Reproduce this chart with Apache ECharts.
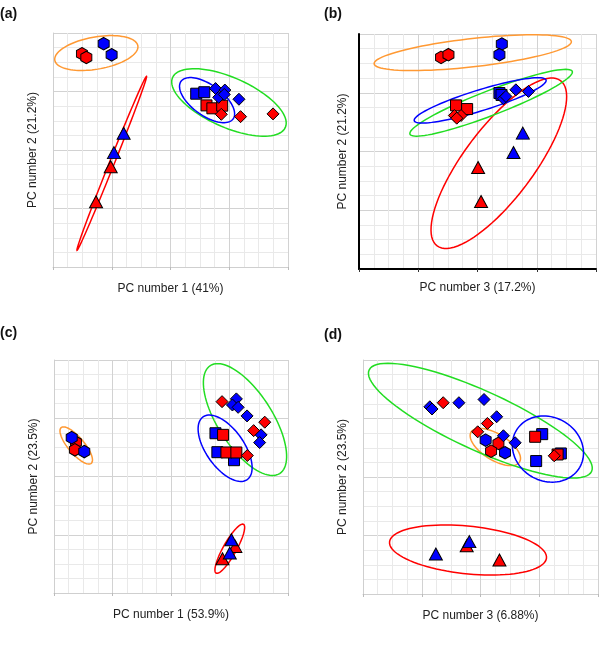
<!DOCTYPE html>
<html>
<head>
<meta charset="utf-8">
<script src="https://cdn.jsdelivr.net/npm/echarts@6/dist/echarts.min.js"></script>
<style>
  html, body { margin: 0; padding: 0; background: #fff; }
  #chart { width: 600px; height: 656px; }
</style>
</head>
<body>
<div id="chart"></div>
<script>
// panel (a): PC1 vs PC2
const aHexRed = [[1.97, 14.58], [2.27, 14.33]]
const aHexBlue = [[3.45, 15.27], [3.99, 14.51]]
const aTriRed = [[3.93, 6.86], [2.93, 4.46]]
const aTriBlue = [[4.81, 9.14], [4.15, 7.82]]
const aSqBlue = [[9.75, 11.85], [10.3, 11.95]]
const aSqRed = [[10.45, 11.05], [10.85, 10.85], [11.52, 11.03]]
const aDiaBlue = [[11.07, 12.2], [11.7, 12.1], [11.28, 11.6], [11.66, 11.8], [12.66, 11.47]]
const aDiaRed = [[11.46, 10.44], [12.77, 10.28], [14.98, 10.47]]
// ellipses: [cx, cy, semi-major, semi-minor, angle deg] -> orange, red, green, blue
const aEllipses = [[2.95, 14.63, 2.87, 1.1, 10], [4.0, 7.09, 6.4, 0.17, 68.3], [11.98, 11.25, 4.2, 1.7, -24], [10.49, 11.41, 2.19, 1.05, -36]]

// panel (b): PC3 vs PC2
const bHexRed = [[5.54, 14.41], [6.04, 14.59]]
const bHexBlue = [[9.64, 15.32], [9.48, 14.59]]
const bTriRed = [[8.04, 6.91], [8.24, 4.59]]
const bTriBlue = [[11.06, 9.25], [10.43, 7.93]]
const bSqBlue = [[9.48, 11.98], [9.62, 11.85]]
const bSqRed = [[6.55, 11.14], [7.3, 10.89]]
const bDiaBlue = [[9.75, 11.59], [9.92, 11.75], [10.59, 12.2], [11.44, 12.09]]
const bDiaRed = [[6.44, 10.45], [6.89, 10.45], [6.6, 10.27]]
const bEllipses = [[7.68, 14.73, 6.7, 0.96, 6.5], [9.44, 7.2, 7.0, 2.37, 53.5], [8.92, 11.32, 5.88, 0.84, 21.3], [8.18, 11.48, 4.66, 0.71, 17.3]]

// panel (c): PC1 vs PC2
const cHexRed = [[1.5, 10.35], [1.43, 9.83]]
const cHexBlue = [[1.21, 10.67], [2.07, 9.71]]
const cTriRed = [[12.4, 3.2], [11.52, 2.35]]
const cTriBlue = [[12.13, 3.66], [12.02, 2.74]]
const cSqBlue = [[11.04, 10.97], [11.17, 9.67], [12.31, 9.12]]
const cSqRed = [[11.56, 10.86], [11.79, 9.65], [12.47, 9.65]]
const cDiaBlue = [[12.47, 13.33], [12.2, 12.91], [12.59, 12.75], [13.2, 12.16], [14.16, 10.86], [14.06, 10.33]]
const cDiaRed = [[11.49, 13.14], [14.41, 11.73], [13.65, 11.15], [13.22, 9.44]]
const cEllipses = [[1.52, 10.13, 1.6, 0.55, -50], [12.02, 3.04, 1.92, 0.45, 60.8], [13.06, 11.91, 4.4, 1.87, -57.4], [11.7, 9.94, 2.63, 1.3, -55]]

// panel (d): PC3 vs PC2
const dHexRed = [[9.22, 10.3], [8.72, 9.77]]
const dHexBlue = [[8.35, 10.52], [9.67, 9.66]]
const dTriRed = [[7.06, 3.3], [9.29, 2.32]]
const dTriBlue = [[4.96, 2.73], [7.24, 3.58]]
const dSqBlue = [[12.2, 10.93], [11.79, 9.09], [13.47, 9.61]]
const dSqRed = [[11.72, 10.75], [13.25, 9.54]]
const dDiaBlue = [[4.55, 12.8], [4.7, 12.65], [6.53, 13.08], [8.24, 13.3], [9.1, 12.12], [9.56, 10.82], [10.36, 10.34]]
const dDiaRed = [[5.46, 13.08], [8.47, 11.66], [7.81, 11.09], [13.02, 9.45]]
const dEllipses = [[9.01, 10.05, 1.94, 0.89, -31.8], [7.15, 3.01, 5.37, 1.63, -5.9], [7.99, 11.85, 8.33, 2.02, -24.6], [12.59, 9.91, 2.5, 2.18, -30]]

const panelLabels = ['(a)', '(b)', '(c)', '(d)']
const xTitles = ['PC number 1 (41%)', 'PC number 3 (17.2%)', 'PC number 1 (53.9%)', 'PC number 3 (6.88%)']
const yTitles = ['PC number 2 (21.2%)', 'PC number 2 (21.2%)', 'PC number 2 (23.5%)', 'PC number 2 (23.5%)']

const RED = '#ff0000'
const BLUE = '#0000ff'
const ellipseColors = ['#ff9933', '#ff0000', '#22dd22', '#0000ff']
const HEX = 'path://M5,0L10,2.9L10,8.7L5,11.6L0,8.7L0,2.9Z'
const FONT = '"Liberation Sans", Arial, sans-serif'

const panels = [
  { hexRed: aHexRed, hexBlue: aHexBlue, triRed: aTriRed, triBlue: aTriBlue, sqBlue: aSqBlue, sqRed: aSqRed, diaBlue: aDiaBlue, diaRed: aDiaRed, ell: aEllipses },
  { hexRed: bHexRed, hexBlue: bHexBlue, triRed: bTriRed, triBlue: bTriBlue, sqBlue: bSqBlue, sqRed: bSqRed, diaBlue: bDiaBlue, diaRed: bDiaRed, ell: bEllipses },
  { hexRed: cHexRed, hexBlue: cHexBlue, triRed: cTriRed, triBlue: cTriBlue, sqBlue: cSqBlue, sqRed: cSqRed, diaBlue: cDiaBlue, diaRed: cDiaRed, ell: cEllipses },
  { hexRed: dHexRed, hexBlue: dHexBlue, triRed: dTriRed, triBlue: dTriBlue, sqBlue: dSqBlue, sqRed: dSqRed, diaBlue: dDiaBlue, diaRed: dDiaRed, ell: dEllipses }
]

const grids = [
  { left: 53, top: 33, width: 235, height: 234 },
  { left: 359, top: 34, width: 237, height: 235 },
  { left: 54, top: 360, width: 234, height: 233 },
  { left: 363, top: 360, width: 235, height: 234 }
]

function renderEllipse(params, api) {
  const cx = api.value(0), cy = api.value(1)
  const a = api.value(2), b = api.value(3)
  const t = api.value(4) * Math.PI / 180
  const pts = []
  for (let i = 0; i <= 90; i++) {
    const u = i / 90 * Math.PI * 2
    const x = cx + a * Math.cos(u) * Math.cos(t) - b * Math.sin(u) * Math.sin(t)
    const y = cy + a * Math.cos(u) * Math.sin(t) + b * Math.sin(u) * Math.cos(t)
    pts.push(api.coord([x, y]))
  }
  return {
    type: 'polygon',
    shape: { points: pts },
    style: { fill: 'none', stroke: ellipseColors[params.dataIndex], lineWidth: 1.5 }
  }
}

function axisFor(i, isX) {
  const dark = i === 1
  return {
    type: 'value',
    gridIndex: i,
    min: 0,
    max: 16,
    interval: 4,
    offset: dark ? (isX ? 1 : 0) : 4,
    name: isX ? xTitles[i] : yTitles[i],
    nameLocation: 'middle',
    nameGap: isX ? 12 : 10,
    nameTextStyle: { fontFamily: FONT, fontSize: 12, color: '#222', verticalAlign: isX ? 'top' : 'bottom' },
    axisLine: { show: true, lineStyle: { color: dark ? '#000' : '#cfcfcf', width: dark ? 2 : 1 } },
    axisTick: {
      show: isX,
      length: 3,
      inside: false,
      interval: (idx, val) => val > 0 && val < 16,
      lineStyle: { color: dark ? '#333' : '#bbb' }
    },
    axisLabel: { show: false },
    splitLine: { show: true, lineStyle: { color: '#d2d2d2', width: 1 } },
    minorTick: { show: false, splitNumber: 4 },
    minorSplitLine: { show: true, lineStyle: { color: '#e9e9e9', width: 1 } }
  }
}

function scatter(i, data, symbol, size, color) {
  return {
    type: 'scatter',
    xAxisIndex: i,
    yAxisIndex: i,
    data: data,
    symbol: symbol,
    symbolSize: size,
    z: 3,
    itemStyle: { color: color, borderColor: '#000', borderWidth: 1, opacity: 1 },
    emphasis: { disabled: true }
  }
}

const series = []
panels.forEach((p, i) => {
  series.push({
    type: 'custom',
    xAxisIndex: i,
    yAxisIndex: i,
    data: p.ell,
    encode: { x: 0, y: 1 },
    renderItem: renderEllipse,
    z: 2,
    silent: true
  })
  series.push(scatter(i, p.hexRed, HEX, [11, 12.5], RED))
  series.push(scatter(i, p.hexBlue, HEX, [11, 12.5], BLUE))
  series.push(scatter(i, p.triRed, 'triangle', [13, 12], RED))
  series.push(scatter(i, p.triBlue, 'triangle', [13, 12], BLUE))
  series.push(scatter(i, p.sqBlue, 'rect', 11, BLUE))
  series.push(scatter(i, p.sqRed, 'rect', 11, RED))
  series.push(scatter(i, p.diaBlue, 'diamond', [12, 12], BLUE))
  series.push(scatter(i, p.diaRed, 'diamond', [12, 12], RED))
})

const labelPos = [[0, 7], [324, 7], [0, 326], [324, 328]]

const chart = echarts.init(document.getElementById('chart'), null, { renderer: 'canvas' })
chart.setOption({
  animation: false,
  backgroundColor: '#fff',
  grid: grids,
  xAxis: [0, 1, 2, 3].map(i => axisFor(i, true)),
  yAxis: [0, 1, 2, 3].map(i => axisFor(i, false)),
  graphic: panelLabels.map((t, i) => ({
    type: 'text',
    left: labelPos[i][0],
    top: labelPos[i][1],
    style: { text: t, font: 'bold 14px ' + FONT, fill: '#111' }
  })),
  series: series
})
</script>
</body>
</html>
